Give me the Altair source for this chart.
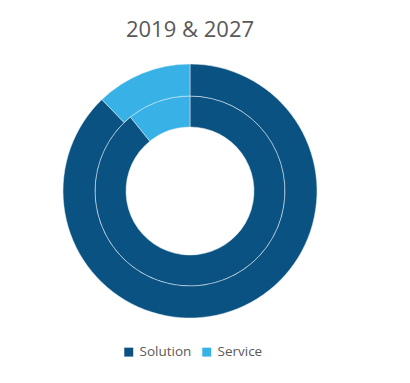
import altair as alt
import pandas as pd

segments = ["Solution", "Service"]
inner_2019 = [89.2, 10.8]
outer_2027 = [87.8, 12.2]
colors = ["#0A5282", "#38B2E6"]

df_in = pd.DataFrame({"segment": segments, "value": inner_2019, "idx": [0, 1]})
df_out = pd.DataFrame({"segment": segments, "value": outer_2027, "idx": [0, 1]})

color = alt.Color(
    "segment:N",
    scale=alt.Scale(domain=segments, range=colors),
    legend=alt.Legend(
        title=None, orient="none", direction="horizontal",
        legendX=114, legendY=337, symbolType="square", symbolSize=80,
        labelFont="Open Sans", labelFontSize=13.5, labelColor="#595959",
        columnPadding=8, labelOffset=4, symbolStrokeWidth=0,
    ),
)

def ring(df, r_out, r_in):
    return alt.Chart(df).mark_arc(
        radius=r_out, radius2=r_in, stroke="#e8f0f6", strokeWidth=0.5
    ).encode(
        theta=alt.Theta("value:Q", stack=True),
        color=color,
        order=alt.Order("idx:Q"),
        x=alt.value(182),
        y=alt.value(183),
    )

title = alt.Chart(pd.DataFrame({"t": ["2019 & 2027"]})).mark_text(
    font="Open Sans", fontSize=22, color="#595959", align="center", baseline="middle"
).encode(text="t:N", x=alt.value(182), y=alt.value(22))

chart = alt.layer(ring(df_in, 95, 64), ring(df_out, 127, 95), title).resolve_scale(
    theta="independent"
).properties(
    width=394, height=367, autosize="none", padding=0
).configure_view(stroke=None)

chart.save("out.html", embed_options={"renderer": "svg", "actions": False})
